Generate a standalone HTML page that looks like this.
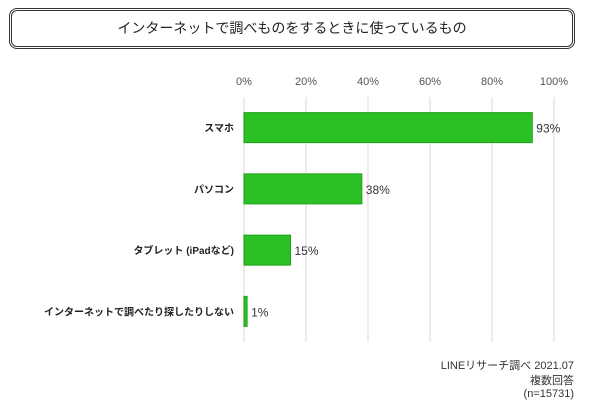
<!DOCTYPE html>
<html><head><meta charset="utf-8"><style>
body{margin:0;background:#fff;width:600px;height:403px;overflow:hidden;font-family:"Liberation Sans","Noto Sans CJK JP",sans-serif;}
#title{position:absolute;left:9px;top:8px;width:560px;height:35px;border:3px double #333;border-radius:8px;text-align:center;line-height:35px;font-size:14px;color:#222;}
.note{position:absolute;right:26px;font-size:11px;color:#333;text-align:right;}
</style></head><body>
<div id="title">インターネットで調べものをするときに使っているもの</div>
<svg id="chart" width="600" height="403" style="position:absolute;left:0;top:0"></svg>
<div class="note" style="top:357px">LINEリサーチ調べ 2021.07</div>
<div class="note" style="top:372px">複数回答</div>
<div class="note" style="top:388px">(n=15731)</div>
<script>
const categories=["スマホ","パソコン","タブレット (iPadなど)","インターネットで調べたり探したりしない"];
const values=[93,38,15,1];
const ticks=[0,20,40,60,80,100];
const svg=document.getElementById('chart');
const NS='http://www.w3.org/2000/svg';
const x0=244,x1=554,top0=97,bot=342;
const xs=v=>x0+(x1-x0)*v/100;
const band=(bot-top0)/categories.length;
const yc=i=>top0+band*(i+0.5);
function mk(t,a){const e=document.createElementNS(NS,t);for(const k in a)e.setAttribute(k,a[k]);svg.appendChild(e);return e;}
ticks.forEach((t,i)=>{
  const l=mk('line',{x1:xs(t),x2:xs(t),y1:top0,y2:bot,stroke:i%2?'#e6e6e6':'#f3e2da','stroke-width':1.5});
  
  
  const tx=mk('text',{x:xs(t),y:85,'text-anchor':'middle','font-size':11,fill:'#555'});
  tx.textContent=t+'%';
  
  
});
values.forEach((v,i)=>{
  const r=mk('rect',{x:x0,y:yc(i)-15,width:xs(v)-x0,height:30,fill:'#2bc024',stroke:'#1fa01a','stroke-width':1});
  
  
  const vl=mk('text',{x:xs(v)+4,y:yc(i)+5,'font-size':12,fill:'#333'});
  vl.textContent=v+'%';
  
  
  const cl=mk('text',{x:234,y:yc(i)+4,'text-anchor':'end','font-size':10,'font-weight':'bold',fill:'#222'});
  cl.textContent=categories[i];
  
  
});
</script>
</body></html>
